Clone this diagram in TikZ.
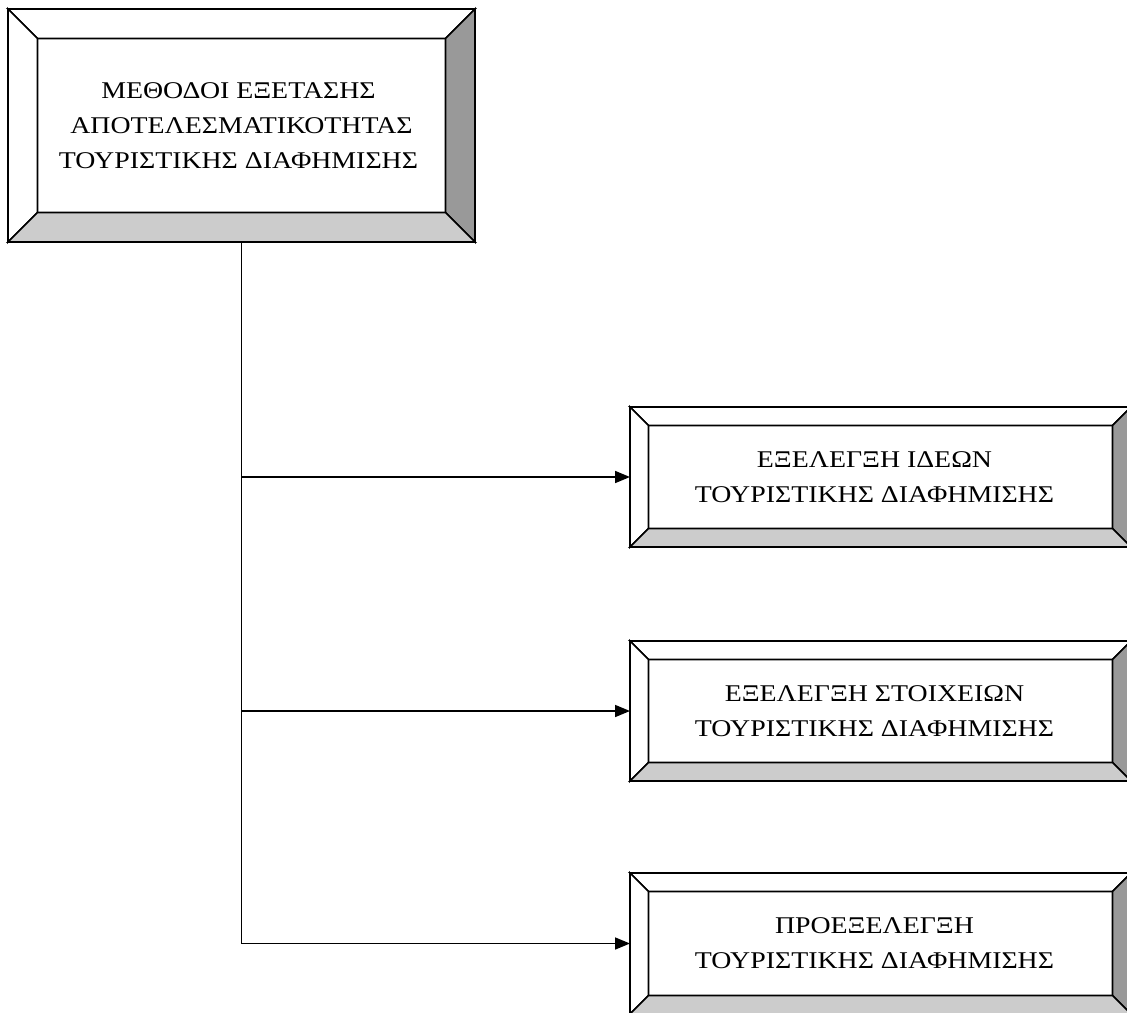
\documentclass[tikz,border=0pt]{standalone}
\usepackage{fontspec}
\setmainfont[FakeStretch=1.16]{Liberation Serif}
\usetikzlibrary{arrows.meta,calc}
\definecolor{bevdark}{HTML}{999999}
\definecolor{bevlight}{HTML}{CCCCCC}
\newcommand\lsh{\hspace*{12pt}}
\tikzset{
  bevelline/.style={draw=black, line width=1.7pt, line join=miter},
  bevbox/.style={draw=black, line width=1.7pt, inner sep=0pt, outer sep=0pt, align=center,
    font=\fontsize{24}{35}\selectfont},
  topbox/.style={bevbox, minimum width=467pt, minimum height=233pt},
  sidebox/.style={bevbox, minimum width=501pt, minimum height=140pt},
  conn/.style={line width=1.7pt, draw=black},
  connarrow/.style={conn, -{Triangle[length=15pt,width=12pt]}}
}
\newcommand\bevelframe[2]{%
  \coordinate (o1) at (#1.north west);
  \coordinate (o2) at (#1.north east);
  \coordinate (o3) at (#1.south east);
  \coordinate (o4) at (#1.south west);
  \coordinate (i1) at ($(o1)+(#2pt,-#2pt)$);
  \coordinate (i2) at ($(o2)+(-#2pt,-#2pt)$);
  \coordinate (i3) at ($(o3)+(-#2pt,#2pt)$);
  \coordinate (i4) at ($(o4)+(#2pt,#2pt)$);
  \filldraw[bevelline, fill=white] (o1) -- (o2) -- (i2) -- (i1) -- cycle;
  \filldraw[bevelline, fill=white] (o1) -- (i1) -- (i4) -- (o4) -- cycle;
  \filldraw[bevelline, fill=bevdark] (o2) -- (o3) -- (i3) -- (i2) -- cycle;
  \filldraw[bevelline, fill=bevlight] (o4) -- (i4) -- (i3) -- (o3) -- cycle;
  \draw[bevelline] (i1) rectangle (i3);
}
\begin{document}
\begin{tikzpicture}[x=1pt, y=-1pt]
  \useasboundingbox (0,0) rectangle (1127,1012);
  \clip (0,0) rectangle (1127,1012);
  \fill[white] (0,0) rectangle (1127,1012);

  \node[topbox] (top) at (241.5,125.5)
    {ΜΕΘΟΔΟΙ ΕΞΕΤΑΣΗΣ\hspace*{6pt}\\ΑΠΟΤΕΛΕΣΜΑΤΙΚΟΤΗΤΑΣ\hspace*{6pt}\\ΤΟΥΡΙΣΤΙΚΗΣ ΔΙΑΦΗΜΙΣΗΣ\hspace*{6pt}};
  \bevelframe{top}{29.5}

  \node[sidebox] (b1) at (880.5,477)
    {ΕΞΕΛΕΓΞΗ ΙΔΕΩΝ\lsh\\ΤΟΥΡΙΣΤΙΚΗΣ ΔΙΑΦΗΜΙΣΗΣ\lsh};
  \bevelframe{b1}{18.5}

  \node[sidebox] (b2) at (880.5,711)
    {ΕΞΕΛΕΓΞΗ ΣΤΟΙΧΕΙΩΝ\lsh\\ΤΟΥΡΙΣΤΙΚΗΣ ΔΙΑΦΗΜΙΣΗΣ\lsh};
  \bevelframe{b2}{18.5}

  \node[sidebox, minimum height=141pt] (b3) at (880.5,943.5)
    {ΠΡΟΕΞΕΛΕΓΞΗ\lsh\\ΤΟΥΡΙΣΤΙΚΗΣ ΔΙΑΦΗΜΙΣΗΣ\lsh};
  \bevelframe{b3}{18.5}

  \draw[connarrow] (top.south) |- (b3.west);
  \draw[connarrow] (top.south |- b1.west) -- (b1.west);
  \draw[connarrow] (top.south |- b2.west) -- (b2.west);
\end{tikzpicture}
\end{document}
